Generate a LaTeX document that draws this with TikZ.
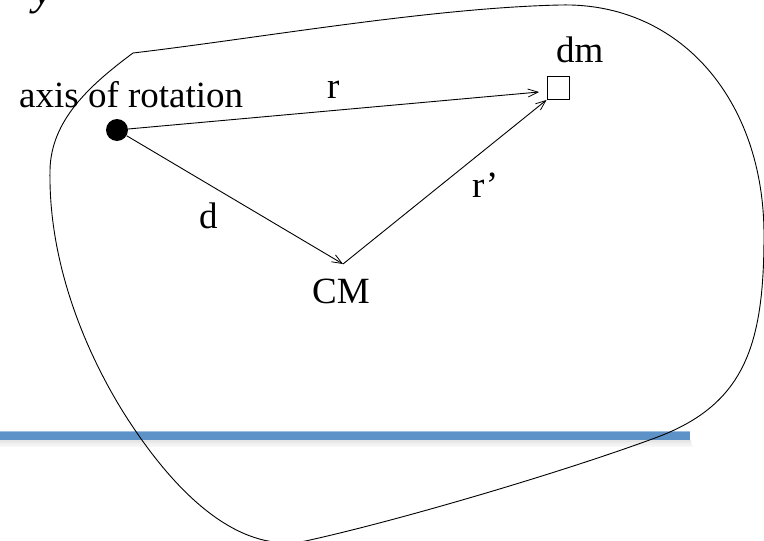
\documentclass[tikz,border=0pt]{standalone}
\usepackage{fontspec}
\setmainfont{Liberation Serif}
\usetikzlibrary{arrows.meta}
\definecolor{barblue}{RGB}{92,146,199}
\tikzset{
  lbl/.style={inner sep=0pt, font=\fontsize{37}{44}\selectfont},
  vec/.style={line width=0.9pt, -{Straight Barb[length=10pt,width=8pt,line width=0.8pt]}},
  outline/.style={line width=0.9pt}
}
\begin{document}
\begin{tikzpicture}[x=1pt,y=-1pt]
\useasboundingbox (0,0) rectangle (764,541);
\clip (0,0) rectangle (764,541);
% shadow of bar
\foreach \k/\o in {1/0.10,2/0.08,3/0.06,4/0.04,5/0.03}{
  \fill[black,opacity=\o] (0,{439+\k*1.4}) rectangle ({690+\k*0.6},{440.4+\k*1.4});
}
\fill[barblue] (0,431) rectangle (690,440);
\fill[barblue!60!white] (0,431) rectangle (690,432);
% body outline
\draw[outline] (133,53) .. controls (260,38) and (430,8) .. (560,5)
  .. controls (680,2) and (764,100) .. (764,235)
  .. controls (764,345) and (745,405) .. (655,438)
  .. controls (560,473) and (400,520) .. (310,540)
  .. controls (250,555) and (190,510) .. (137,433)
  .. controls (100,380) and (48,280) .. (50,170)
  .. controls (51,120) and (90,85) .. (133,53);
% y label
\node[lbl, anchor=base west, font=\fontsize{44}{50}\selectfont\itshape] (ylab) at (33,4) {y};
% nodes
\node[circle, fill=black, minimum size=22pt, inner sep=0pt] (axis) at (117,130) {};
\node[draw, line width=0.9pt, minimum width=22pt, minimum height=23pt, inner sep=0pt] (dm) at (558,88) {};
\coordinate (cm) at (343,264);
\coordinate (rtip) at (539,92);
% vectors
\draw[vec] (axis) -- (rtip);
\draw[vec] (axis) -- (cm);
\draw[vec] (cm) -- (dm.south west);
% labels
\node[lbl, anchor=base west] (axislab) at (19,107) {axis of rotation};
\node[lbl, anchor=base west] (rlab) at (327,98) {r};
\node[lbl, anchor=base west] (rplab) at (472,197) {r’};
\node[lbl, anchor=base west] (dlab) at (199,228) {d};
\node[lbl, anchor=base west] (cmlab) at (312,303) {CM};
\node[lbl, anchor=base west] (dmlab) at (556,62) {dm};
\end{tikzpicture}
\end{document}
